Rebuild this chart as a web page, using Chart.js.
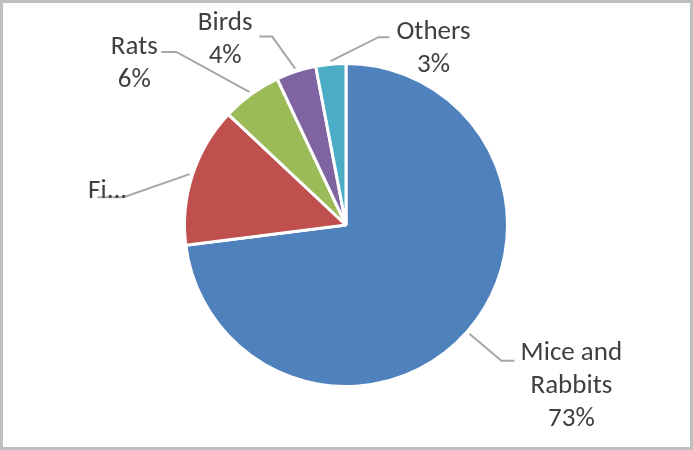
<!DOCTYPE html>
<html>
<head>
<meta charset="utf-8">
<script src="https://cdn.jsdelivr.net/npm/chart.js@4.4.1/dist/chart.umd.min.js"></script>
<style>
  html, body { margin: 0; padding: 0; background: #ffffff; }
  #wrap { position: relative; width: 693px; height: 450px; }
  canvas { display: block; }
</style>
</head>
<body>
<div id="wrap"><canvas id="c" width="693" height="450"></canvas></div>
<script>
// ---- data ----
const categories = ["Mice and Rabbits", "Fish", "Rats", "Birds", "Others"];
const values = [73, 14, 6, 4, 3];
// label text as shown in the picture (Fish label is truncated in the original)
const labelLines = [["Mice and", "Rabbits"], ["Fi..."], ["Rats"], ["Birds"], ["Others"]];
const showPercent = [true, false, true, true, true];
const colors = ["#4F81BD", "#C0504D", "#9BBB59", "#8064A2", "#4BACC6"];

// ---- label layout (leader elbow and text placement relative to the slice anchor) ----
const labelLayout = [
  { elbow: [32, 27],   hline: 13,  text: [57, -8] },
  { elbow: [-66, 23],  hline: -26, text: [10, -6] },
  { elbow: [-73, -40], hline: -15, text: [-27, -5] },
  { elbow: [-23, -32], hline: -13, text: [-34, -13] },
  { elbow: [48, -24],  hline: 11,  text: [44, -5] }
];

const FONT = "27px Carlito, Lato, 'Liberation Sans', sans-serif";
const LINE_H = 33;

const labelPlugin = {
  id: 'excelLabels',
  beforeDraw(chart) {
    const ctx = chart.ctx;
    ctx.save();
    ctx.fillStyle = '#ffffff';
    ctx.fillRect(0, 0, chart.width, chart.height);
    ctx.restore();
  },
  afterDraw(chart) {
    const ctx = chart.ctx;
    const meta = chart.getDatasetMeta(0);
    const total = values.reduce((a, b) => a + b, 0);
    ctx.save();
    meta.data.forEach((arc, i) => {
      const p = arc.getProps(['x', 'y', 'startAngle', 'endAngle', 'outerRadius'], true);
      const mid = (p.startAngle + p.endAngle) / 2;
      const r = p.outerRadius + 3;
      const ax = p.x + Math.cos(mid) * r;
      const ay = p.y + Math.sin(mid) * r;
      const L = labelLayout[i];
      const ex = ax + L.elbow[0], ey = ay + L.elbow[1];
      const hx = ex + L.hline;
      ctx.strokeStyle = '#A6A6A6';
      ctx.lineWidth = 2;
      ctx.beginPath();
      ctx.moveTo(ax, ay);
      ctx.lineTo(ex, ey);
      ctx.lineTo(hx, ey);
      ctx.stroke();

      const lines = labelLines[i].slice();
      if (showPercent[i]) lines.push(Math.round(values[i] / total * 100) + '%');
      const tx = hx + L.text[0];
      let ty = ey + L.text[1];
      ctx.fillStyle = '#404040';
      ctx.font = FONT;
      ctx.textAlign = 'center';
      ctx.textBaseline = 'middle';
      lines.forEach((t, k) => ctx.fillText(t, tx, ty + k * LINE_H));
    });
    // outer frame
    ctx.strokeStyle = '#BFBFBF';
    ctx.lineWidth = 3;
    ctx.strokeRect(1.5, 1.5, chart.width - 3, chart.height - 3);
    ctx.restore();
  }
};

new Chart(document.getElementById('c'), {
  type: 'pie',
  data: {
    labels: categories,
    datasets: [{
      data: values,
      backgroundColor: colors,
      borderColor: '#ffffff',
      borderWidth: 3
    }]
  },
  options: {
    responsive: false,
    animation: false,
    layout: { padding: { top: 62, bottom: 62, left: 183, right: 184 } },
    plugins: { legend: { display: false }, tooltip: { enabled: false } }
  },
  plugins: [labelPlugin]
});
</script>
</body>
</html>
